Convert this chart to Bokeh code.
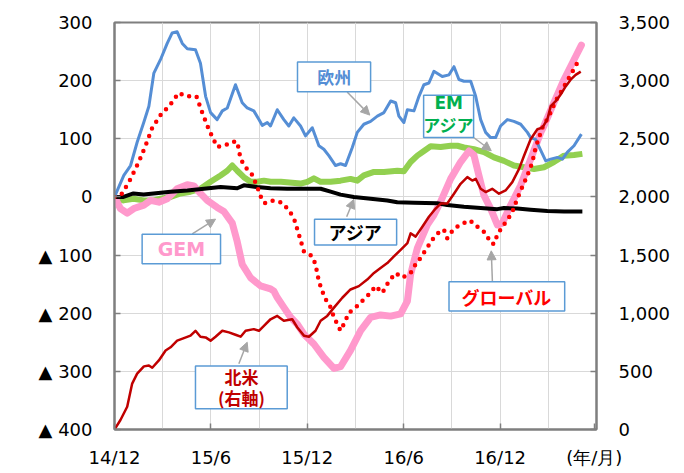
from bokeh.plotting import figure
from bokeh.models import (Range1d, LinearAxis, FixedTicker, NumeralTickFormatter,
                          Arrow, NormalHead, Label, BoxAnnotation)
from bokeh.embed import file_html
from bokeh.resources import INLINE

# ---- data (months since 2014/12) ----
x_tick_pos = [0, 6, 12, 18, 24, 29.86]
x_tick_labels = ["14/12", "15/6", "15/12", "16/6", "16/12", "(年/月)"]
left_ticks = [-400, -300, -200, -100, 0, 100, 200, 300]
right_ticks = [0, 500, 1000, 1500, 2000, 2500, 3000, 3500]

europe_m = [0,0.58,1.0,1.41,1.82,2.14,2.45,2.86,3.28,3.59,3.90,4.22,4.53,5.04,5.35,5.67,5.98,6.39,6.71,7.02,
            7.53,7.95,8.26,8.67,8.99,9.20,9.51,9.71,10.13,10.54,10.85,11.16,11.58,11.89,12.31,12.72,13.03,13.34,13.76,14.07,
            14.38,14.80,15.11,15.52,15.94,16.36,16.77,17.19,17.50,17.70,18.01,18.23,18.64,18.95,19.26,19.57,19.88,20.40,20.82,21.13,
            21.44,21.75,22.17,22.48,22.79,23.10,23.41,23.72,24.03,24.45,24.86,25.28,25.70,25.90,26.21,26.53,26.84,27.15,27.57,27.88,
            28.19,28.60,29.06]
europe_v = [0,37,54,94,128,156,213,236,264,282,284,264,255,253,230,173,145,133,148,153,
            193,162,153,148,133,123,128,122,150,133,122,136,122,105,119,88,82,71,54,57,
            54,85,111,125,130,139,145,165,162,139,128,150,148,173,193,196,216,207,210,224,
            202,199,199,173,133,111,102,102,122,133,130,125,111,102,99,80,62,65,68,65,
            77,88,108]

emasia_m = [0,0.56,1.18,1.81,2.43,2.86,3.49,4.11,4.73,5.35,5.98,6.60,7.02,7.33,7.64,8.05,8.47,8.88,9.30,9.71,
            10.36,11.58,12.0,12.41,12.83,13.45,14.07,14.69,15.11,15.52,16.15,16.77,17.60,18.01,18.43,18.85,19.26,19.68,20.30,20.92,
            21.34,21.75,22.37,23.0,23.62,24.24,24.86,25.49,26.11,26.73,27.35,27.98,28.60,29.12]
emasia_v = [0,-6,-3,-6,-6,-3,0,6,9,14,26,37,45,54,45,34,26,26,28,26,
            26,23,26,32,26,26,28,31,28,37,43,43,45,44,60,71,79,87,86,88,
            88,85,82,77,68,62,54,51,48,51,60,71,72,74]

asia_m = [0,0.56,1.18,1.81,2.43,3.49,4.53,5.56,6.60,7.64,8.05,8.88,9.71,10.75,11.79,12.83,13.45,14.07,14.90,15.94,
          16.98,17.60,18.64,20.09,20.71,21.75,22.79,23.82,24.24,25.07,25.90,26.94,27.98,29.12]
asia_v = [0,0,6,4,6,9,11,14,17,15,20,17,15,14,14,14,9,4,0,-3,
          -6,-9,-10,-11,-14,-17,-19,-21,-19,-20,-22,-24,-25,-25]

gem_m = [0,0.37,0.79,1.20,1.83,2.24,2.76,3.28,3.90,4.53,4.94,5.35,5.77,6.39,6.81,7.33,7.64,7.95,8.47,9.09,
         9.71,9.92,10.13,10.54,10.96,11.38,11.79,12.41,13.03,13.66,14.07,14.69,15.32,15.94,16.56,17.19,17.81,18.23,18.43,18.85,
         19.47,19.88,20.30,20.92,21.54,22.06,22.37,22.68,22.99,23.41,23.83,24.14,24.66,25.28,25.90,26.53,26.73,27.35,27.98,28.60,
         29.06]
gem_v = [0,-20,-28,-20,-14,-6,-9,-3,14,21,19,6,-6,-18,-25,-45,-77,-116,-139,-153,
         -158,-162,-173,-190,-207,-219,-236,-253,-276,-295,-292,-264,-230,-207,-203,-205,-201,-179,-133,-88,
         -48,-31,-8,31,60,79,72,37,3,-20,-48,-45,-14,20,65,111,122,162,202,236,
         261]

global_m = [0,0.48,1.0,1.51,1.93,2.35,2.97,3.38,4.0,4.48,5.10,5.46,5.87,6.39,6.91,7.33,7.64,7.85,8.16,8.57,
            8.99,9.20,9.40,9.92,10.44,10.85,11.16,11.48,11.79,12.31,12.51,12.72,12.93,13.14,13.45,13.66,14.07,14.32,14.59,14.90,
            15.21,15.52,15.94,16.25,16.67,17.08,17.50,17.92,18.43,18.74,19.05,19.37,19.99,20.50,20.71,21.13,21.54,22.06,22.37,22.68,
            23.10,23.41,23.62,23.83,24.14,24.45,24.76,25.07,25.38,25.70,26.01,26.21,26.63,27.04,27.46,27.88,28.29,28.64,28.91]
global_v = [0,6,31,60,88,119,145,155,179,173,173,145,116,86,89,95,95,65,51,38,
            10,-7,-11,-6,-10,-23,-36,-65,-94,-102,-116,-145,-162,-176,-190,-207,-230,-216,-199,-193,
            -185,-176,-165,-153,-165,-145,-131,-139,-131,-116,-105,-91,-65,-56,-71,-54,-48,-40,-45,-54,
            -62,-79,-81,-65,-51,-40,-26,-3,17,37,60,85,119,139,165,185,205,222,236]

na_m = [0,0.37,0.79,1.10,1.41,1.83,2.14,2.35,2.76,3.18,3.49,3.90,4.32,4.73,5.04,5.35,5.67,5.98,6.29,6.71,
        7.12,7.53,7.85,8.16,8.67,8.99,9.30,9.71,10.13,10.54,11.06,11.38,11.79,12.10,12.51,12.83,13.24,13.66,14.18,14.69,
        15.21,15.73,16.15,16.56,16.98,17.39,17.81,18.23,18.43,18.74,19.16,19.57,19.99,20.30,20.71,21.13,21.54,21.96,22.27,22.48,
        22.79,23.10,23.51,23.93,24.34,24.76,25.18,25.49,25.90,26.32,26.63,26.94,27.15,27.46,27.77,28.08,28.39,28.70,29.02]
na_v = [0,82,196,395,480,543,551,531,594,679,707,764,786,807,849,798,792,764,798,849,
        835,815,798,849,863,849,892,948,977,935,948,877,807,798,849,935,977,1048,1133,1204,
        1233,1289,1346,1389,1431,1488,1545,1602,1687,1659,1744,1829,1900,1943,1943,2028,2113,2170,2141,2156,
        2070,2042,2070,2028,2056,2127,2241,2354,2496,2582,2596,2667,2780,2823,2880,2950,3008,3050,3078]

# ---- figure ----
GRAY = "#7F7F7F"
GRID = "#D9D9D9"
BOXC = "#5B9BD5"
TICKFONT = "DejaVu Sans"
JP = "Noto Sans CJK JP"

p = figure(width=676, height=470, output_backend="svg", toolbar_location=None,
           x_range=Range1d(0, 30), y_range=Range1d(-400, 300),
           min_border_left=114, min_border_right=80, min_border_top=22, min_border_bottom=37)
p.extra_y_ranges = {"na": Range1d(0, 3500)}
p.background_fill_color = "white"
p.border_fill_color = "white"
p.outline_line_color = GRAY
p.outline_line_width = 2

# axes
p.xaxis.ticker = FixedTicker(ticks=x_tick_pos)
p.xaxis.major_label_overrides = {k: v for k, v in zip(x_tick_pos, x_tick_labels)}
p.yaxis.ticker = FixedTicker(ticks=left_ticks)
p.yaxis.major_label_overrides = {t: (str(t) if t >= 0 else "▲ " + str(-t)) for t in left_ticks}
p.xgrid.ticker = FixedTicker(ticks=list(range(0, 31, 3)))
p.ygrid.ticker = FixedTicker(ticks=left_ticks)
p.xgrid.grid_line_color = GRID
p.ygrid.grid_line_color = GRID
p.xgrid.grid_line_width = 1
p.ygrid.grid_line_width = 1

raxis = LinearAxis(y_range_name="na", ticker=FixedTicker(ticks=right_ticks),
                   formatter=NumeralTickFormatter(format="0,0"))
p.add_layout(raxis, "right")

for ax in [p.xaxis[0], p.yaxis[0], raxis]:
    ax.axis_line_color = GRAY
    ax.axis_line_width = 2
    ax.major_tick_in = 6
    ax.major_tick_out = 0
    ax.major_tick_line_color = GRAY
    ax.major_tick_line_width = 1.5
    ax.minor_tick_line_color = None
    ax.major_label_text_font = TICKFONT
    ax.major_label_text_font_size = "18px"
    ax.major_label_text_color = "#000000"
p.xaxis.major_label_standoff = 17
p.yaxis.major_label_standoff = 22
raxis.major_label_standoff = 22

# ---- series ----
p.line(emasia_m, emasia_v, line_color="#92D050", line_width=6, line_join="round")
p.line(gem_m, gem_v, line_color="#FF99CC", line_width=7, line_join="round", line_cap="round")
p.line(asia_m, asia_v, line_color="#000000", line_width=4, line_join="round")
p.line(europe_m, europe_v, line_color="#558ED5", line_width=3, line_join="round")
p.line(global_m, global_v, line_color="#FF0000", line_width=4.5, line_dash="0 8", line_cap="round")
p.line(na_m, na_v, y_range_name="na", line_color="#C00000", line_width=2.5, line_join="round")

# ---- annotations ----
def box(l, r, t, b):
    p.add_layout(BoxAnnotation(left=l, right=r, top=t, bottom=b, fill_color="white", fill_alpha=1,
                               line_color=BOXC, line_width=1.5, line_alpha=1))

def lab(x, y, text, color, size="17px", font=JP):
    p.add_layout(Label(x=x, y=y, text=text, text_color=color, text_font=font, text_font_size=size,
                       text_font_style="bold", text_align="center", text_baseline="middle"))

def arr(x0, y0, x1, y1):
    p.add_layout(Arrow(end=NormalHead(size=9, fill_color="#A6A6A6", line_color="#A6A6A6"),
                       x_start=x0, y_start=y0, x_end=x1, y_end=y1,
                       line_color="#A6A6A6", line_width=1.5))

arr(14.48, 180.6, 15.89, 140.7)
arr(22.27, 103.9, 23.45, 79.4)
arr(4.84, -63.7, 6.29, -38.2)
arr(14.45, -34.1, 14.9, -4.1)
arr(7.74, -286.9, 8.26, -249.9)
arr(23.52, -144.8, 23.45, -92.7)

box(11.39, 15.94, 232, 181)
lab(13.67, 206.5, "欧州", "#558ED5", "17px")
box(19.24, 22.35, 174.8, 102.2)
lab(20.8, 162, "EM", "#00B050", "17px", TICKFONT)
lab(20.8, 124, "アジア", "#00B050", "17px")
box(1.72, 6.60, -64.2, -114.8)
lab(4.17, -89.8, "GEM", "#FF99CC", "19px", TICKFONT)
box(12.45, 17.56, -38.2, -82.5)
lab(15.0, -60.8, "アジア", "#000000", "18px")
box(5.04, 10.75, -290.8, -364.5)
lab(7.9, -309.5, "北米", "#C00000", "17px")
lab(7.9, -345.3, "(右軸)", "#C00000", "17px")
box(20.82, 28.02, -146, -196)
lab(24.4, -171.5, "グローバル", "#FF0000", "18px")

open("out.html", "w").write(file_html(p, INLINE))
